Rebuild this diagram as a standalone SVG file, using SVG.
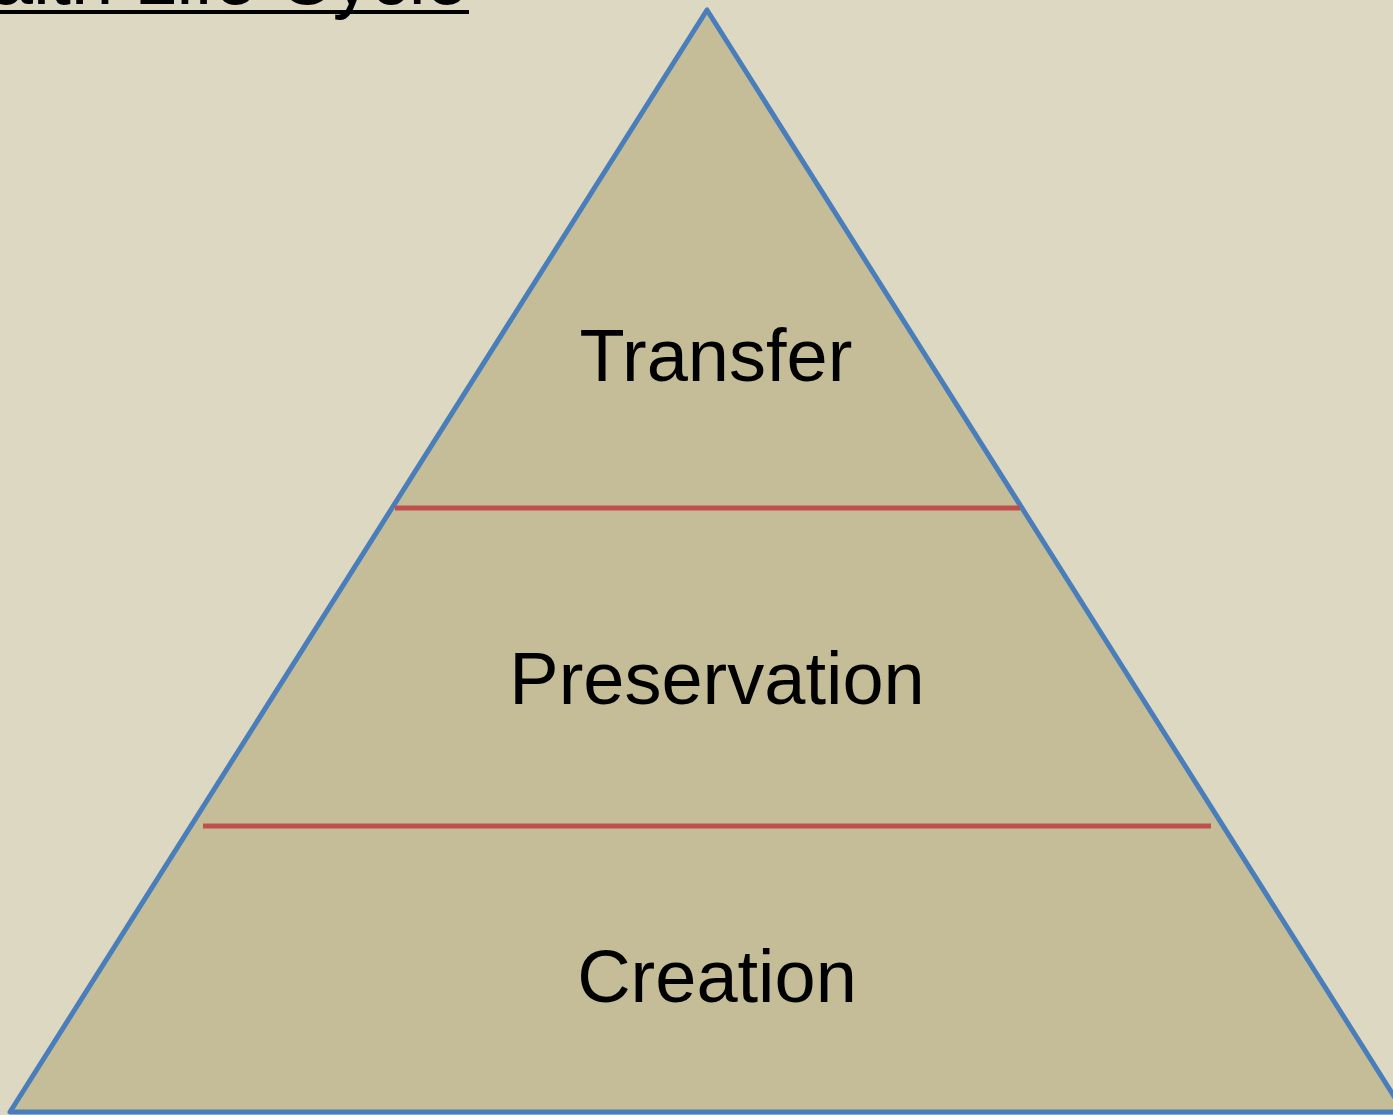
<svg xmlns="http://www.w3.org/2000/svg" width="1393" height="1115" viewBox="0 0 1393 1115">
<style>
.lbl{font-family:"Liberation Sans",Arial,sans-serif;font-size:74px;fill:#000;text-anchor:middle}
.title{font-family:"Liberation Sans",Arial,sans-serif;font-size:76px;fill:#000;text-anchor:end}
.div{stroke:#C0504D;stroke-width:5;fill:none}
</style>
<rect width="1393" height="1115" fill="#DDD8C2"/>
<g id="title">
<text class="title" x="468" y="4">Wealth Life Cycle</text>
<line x1="0" y1="12" x2="469" y2="12" stroke="#000" stroke-width="4"/>
</g>
<g id="pyramid">
<polygon points="707,10 10,1112 1404,1112" fill="#C4BD97" stroke="#4A7EBB" stroke-width="5" stroke-linejoin="round"/>
</g>
<g id="connectors">
<line class="div" x1="395" y1="508" x2="1020" y2="508"/>
<line class="div" x1="203" y1="826" x2="1211" y2="826"/>
</g>
<g id="transfer"><text class="lbl" x="716" y="381">Transfer</text></g>
<g id="preservation"><text class="lbl" x="717" y="704">Preservation</text></g>
<g id="creation"><text class="lbl" x="717" y="1002">Creation</text></g>
</svg>
